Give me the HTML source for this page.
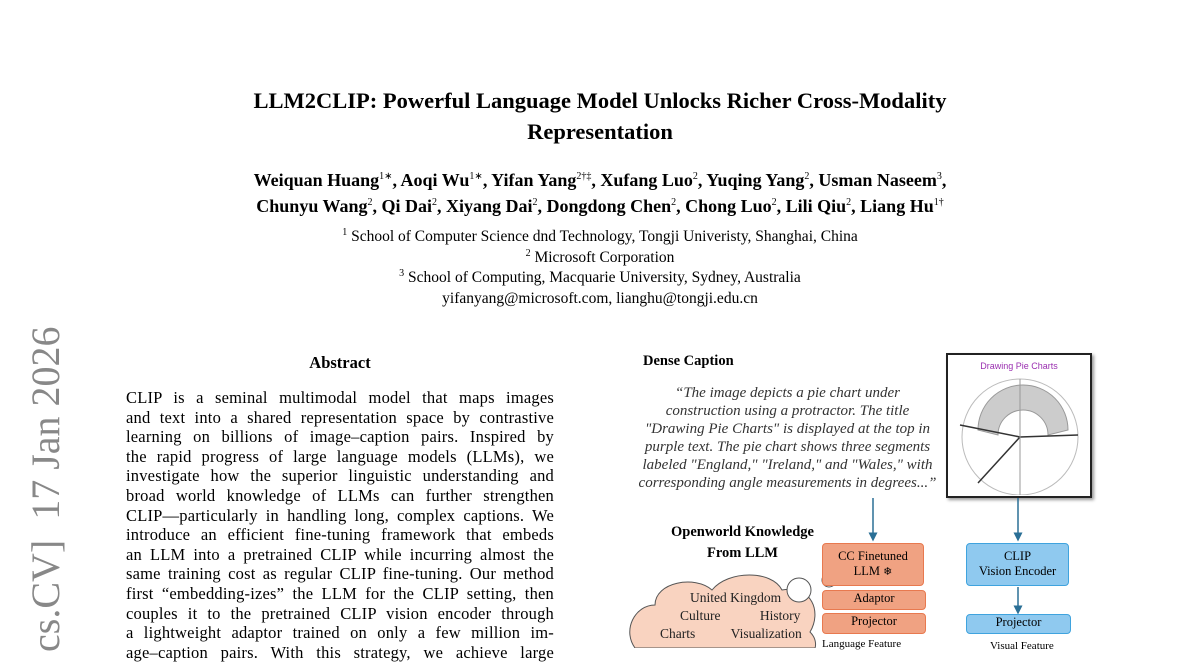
<!DOCTYPE html>
<html><head><meta charset="utf-8"><style>
body{margin:0;width:1200px;height:648px;overflow:hidden;background:#fff;font-family:"Liberation Serif",serif;color:#000;position:relative}
.a{position:absolute}
.c{text-align:center;left:0;width:1200px}
sup{font-size:10px;font-weight:normal;line-height:0}
.abs{left:126px;width:428px;top:388px;font-size:16.5px;line-height:19.6px;letter-spacing:0.2px}
.abs div{text-align:justify;text-align-last:justify;height:19.6px;overflow:hidden}
.cap{left:630px;width:315px;top:384px;font-style:italic;font-size:15px;line-height:18px;text-align:center;color:#333;white-space:nowrap}
.box{position:absolute;border-radius:4px;text-align:center;font-size:12.5px;line-height:15px}
.or{background:#f0a282;border:1.5px solid #e8794f}
.bl{background:#8fc9ef;border:1.5px solid #3fa3de}
</style></head><body>
<div class="a" style="left:24px;top:652px;transform:rotate(-90deg);transform-origin:0 0;font-size:40px;color:#888;white-space:pre;line-height:44px">cs.CV]  17 Jan 2026</div>
<div class="a c" style="top:85px;font-size:22.5px;font-weight:bold;line-height:31px">LLM2CLIP: Powerful Language Model Unlocks Richer Cross-Modality<br>Representation</div>
<div class="a c" style="top:167px;font-size:18px;font-weight:bold;line-height:26px">Weiquan Huang<sup>1∗</sup>, Aoqi Wu<sup>1∗</sup>, Yifan Yang<sup>2†‡</sup>, Xufang Luo<sup>2</sup>, Yuqing Yang<sup>2</sup>, Usman Naseem<sup>3</sup>,<br>Chunyu Wang<sup>2</sup>, Qi Dai<sup>2</sup>, Xiyang Dai<sup>2</sup>, Dongdong Chen<sup>2</sup>, Chong Luo<sup>2</sup>, Lili Qiu<sup>2</sup>, Liang Hu<sup>1†</sup></div>
<div class="a c" style="top:227px;font-size:15.5px;line-height:20.7px"><sup>1</sup> School of Computer Science dnd Technology, Tongji Univeristy, Shanghai, China<br><sup>2</sup> Microsoft Corporation<br><sup>3</sup> School of Computing, Macquarie University, Sydney, Australia<br>yifanyang@microsoft.com, lianghu@tongji.edu.cn</div>
<div class="a" style="left:126px;width:428px;top:353px;text-align:center;font-weight:bold;font-size:16.5px">Abstract</div>
<div class="a abs">
<div>CLIP is a seminal multimodal model that maps images</div>
<div>and text into a shared representation space by contrastive</div>
<div>learning on billions of image–caption pairs. Inspired by</div>
<div>the rapid progress of large language models (LLMs), we</div>
<div>investigate how the superior linguistic understanding and</div>
<div>broad world knowledge of LLMs can further strengthen</div>
<div>CLIP—particularly in handling long, complex captions. We</div>
<div>introduce an efficient fine-tuning framework that embeds</div>
<div>an LLM into a pretrained CLIP while incurring almost the</div>
<div>same training cost as regular CLIP fine-tuning. Our method</div>
<div>first “embedding-izes” the LLM for the CLIP setting, then</div>
<div>couples it to the pretrained CLIP vision encoder through</div>
<div>a lightweight adaptor trained on only a few million im-</div>
<div>age–caption pairs. With this strategy, we achieve large</div>
</div>
<div class="a" style="left:643px;top:353px;font-weight:bold;font-size:14.5px">Dense Caption</div>
<div class="a cap">“The image depicts a pie chart under<br>construction using a protractor. The title<br>"Drawing Pie Charts" is displayed at the top in<br>purple text. The pie chart shows three segments<br>labeled "England," "Ireland," and "Wales," with<br>corresponding angle measurements in degrees...”</div>
<div class="a" style="left:946px;top:353px;width:142px;height:141px;border:2px solid #222;box-shadow:2px 2px 3px #999;background:#fff">
<div style="text-align:center;color:#9a2fb0;font-size:9px;font-family:'Liberation Sans',sans-serif;margin-top:6px">Drawing Pie Charts</div>
<svg width="142" height="120" style="position:absolute;top:20px;left:0"><circle cx="72" cy="62" r="58" fill="none" stroke="#bbb"/><path d="M30 55 A45 45 0 0 1 120 55 L100 60 A25 25 0 0 0 50 60Z" fill="#ccc" stroke="#999"/><line x1="72" y1="62" x2="12" y2="50" stroke="#333" stroke-width="1.5"/><line x1="72" y1="62" x2="130" y2="60" stroke="#333" stroke-width="1.5"/><line x1="72" y1="62" x2="30" y2="108" stroke="#333" stroke-width="1.5"/><line x1="72" y1="4" x2="72" y2="120" stroke="#999"/></svg></div>
<svg class="a" style="left:0;top:0" width="1200" height="648">
<defs><marker id="m" markerWidth="6" markerHeight="6" refX="3" refY="3" orient="auto"><path d="M0,0 L6,3 L0,6z" fill="#2a6f96"/></marker></defs>
<line x1="873" y1="498" x2="873" y2="537" stroke="#2a6f96" stroke-width="1.5" marker-end="url(#m)"/>
<line x1="1018" y1="498" x2="1018" y2="537" stroke="#2a6f96" stroke-width="1.5" marker-end="url(#m)"/>
<line x1="1018" y1="587" x2="1018" y2="610" stroke="#2a6f96" stroke-width="1.5" marker-end="url(#m)"/>
<path d="M635 648 C622 630 635 605 655 605 C655 582 695 575 712 590 C728 570 772 570 782 590 C812 585 822 612 810 632 C818 640 815 648 815 648Z" fill="#f9d3c0" stroke="#555"/>
<circle cx="799" cy="590" r="12" fill="#fff" stroke="#555"/><circle cx="829" cy="580" r="7" fill="#fff" stroke="#555"/><circle cx="842" cy="569" r="4" fill="#fff" stroke="#555"/>
</svg>
<div class="a" style="left:650px;top:522px;width:185px;text-align:center;font-weight:bold;font-size:14.5px;line-height:21px">Openworld Knowledge<br>From LLM</div>
<div class="a" style="left:640px;top:589px;width:180px;font-size:13.5px;line-height:18px;color:#222">
<div style="padding-left:50px">United Kingdom</div><div style="padding-left:40px">Culture <span style="padding-left:36px">History</span></div><div style="padding-left:20px">Charts <span style="padding-left:32px">Visualization</span></div></div>
<div class="box or" style="left:822px;top:543px;width:102px;height:43px;padding-top:5px;box-sizing:border-box">CC Finetuned<br>LLM <span style="font-size:11px">❄</span></div>
<div class="box or" style="left:822px;top:590px;width:102px;height:18px">Adaptor</div>
<div class="box or" style="left:822px;top:613px;width:102px;height:19px">Projector</div>
<div class="a" style="left:822px;top:638px;font-size:11px">Language Feature</div>
<div class="box bl" style="left:966px;top:543px;width:103px;height:43px;padding-top:5px;box-sizing:border-box">CLIP<br>Vision Encoder</div>
<div class="box bl" style="left:966px;top:614px;width:103px;height:18px">Projector</div>
<div class="a" style="left:990px;top:640px;font-size:11px">Visual Feature</div>
</body></html>
